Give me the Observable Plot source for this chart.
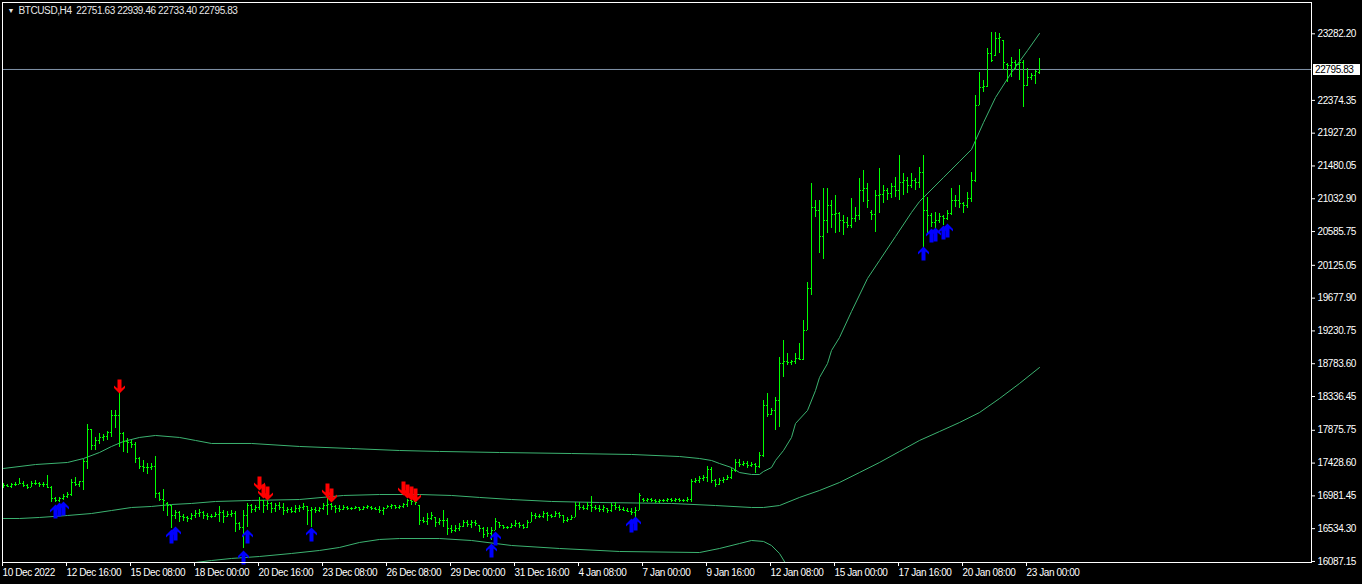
<!DOCTYPE html>
<html><head><meta charset="utf-8">
<script src="https://cdn.jsdelivr.net/npm/d3@7"></script>
<script src="https://cdn.jsdelivr.net/npm/@observablehq/plot@0.6"></script>
<style>html,body{margin:0;padding:0;background:#000;}#chart{width:1362px;height:584px;overflow:hidden}</style>
</head><body><div id="chart"></div>
<script>
const symbolTitle = "BTCUSD,H4";
const lastOHLC = [22751.63, 22939.46, 22733.40, 22795.83];
const lastClose = 22795.83;

const opens = [
17110,17123,17110,17137,17137,17150,17123,17096,17150,17150,
17137,17137,17096,16946,16919,16946,16973,17000,17164,17137,
17178,17450,17887,17668,17737,17778,17791,17846,18077,18077,
17832,17723,17709,17682,17491,17382,17368,17368,17382,17014,
16932,16878,16850,16714,16755,16701,16687,16673,16714,16741,
16755,16714,16701,16701,16728,16755,16701,16728,16741,16605,
16550,16714,16850,16796,16823,16919,16850,16878,16810,16850,
16823,16782,16796,16769,16810,16823,16837,16782,16796,16782,
16810,16850,16864,16837,16810,16796,16823,16810,16810,16823,
16796,16823,16823,16810,16796,16782,16810,16837,16850,16823,
16837,16864,16919,16905,16850,16646,16632,16673,16687,16619,
16646,16646,16537,16510,16537,16564,16619,16591,16619,16578,
16537,16510,16469,16510,16619,16578,16550,16550,16578,16605,
16578,16550,16619,16714,16701,16701,16741,16714,16701,16741,
16714,16646,16660,16687,16850,16823,16810,16850,16823,16810,
16796,16810,16782,16850,16823,16796,16782,16769,16755,16782,
16932,16919,16932,16919,16905,16919,16919,16932,16919,16932,
16919,16919,16932,17178,17191,17219,17232,17341,17191,17137,
17191,17205,17232,17328,17437,17409,17423,17396,17409,17382,
17532,18214,18091,18146,18282,18786,18814,18800,18814,18855,
18841,19236,19809,20914,20873,20518,20736,20941,20818,20832,
20736,20709,20668,20764,20805,21145,21173,20846,20818,21077,
21091,21145,21105,21200,21145,21255,21282,21214,21282,21255,
21391,20873,20805,20709,20736,20791,20764,20832,21009,21009,
20968,20941,21036,21282,22304,22550,22563,23013,22986,23218,
23191,22863,22850,22891,22863,22891,22577,22686,22713,22751.63];

const highs = [
17150,17137,17150,17164,17219,17178,17137,17178,17191,17164,
17164,17259,17110,16960,16960,17000,17028,17205,17232,17178,
17477,17955,17887,17778,17832,17818,17859,18146,18146,18377,
17846,17764,17737,17709,17505,17464,17423,17423,17518,17028,
17069,16891,16850,16782,16769,16728,16701,16741,16782,16796,
16769,16741,16728,16755,16837,16782,16769,16782,16769,16619,
16782,16878,16864,16850,16960,16919,16919,16891,16878,16891,
16878,16823,16823,16850,16850,16878,16837,16823,16823,16823,
16878,16960,16878,16850,16850,16850,16837,16823,16837,16823,
16837,16850,16837,16823,16837,16823,16850,16864,16850,16850,
16878,16932,16960,16919,16850,16687,16741,16755,16687,16673,
16782,16673,16578,16578,16605,16646,16646,16646,16646,16578,
16550,16550,16550,16673,16619,16578,16564,16605,16646,16619,
16591,16646,16755,16741,16728,16769,16755,16728,16769,16755,
16714,16687,16714,16891,16891,16850,16891,16973,16850,16850,
16850,16810,16878,16891,16850,16823,16810,16810,16823,17014,
16946,16946,16946,16932,16932,16932,16946,16946,16946,16946,
16932,16960,17205,17219,17246,17259,17382,17368,17205,17219,
17232,17259,17355,17477,17477,17450,17450,17437,17423,17573,
18282,18377,18173,18323,18868,19100,18923,18827,18923,19059,
19373,19891,21241,21009,21009,21173,21173,21009,21077,20846,
20805,20777,21036,20914,21309,21418,21241,20873,21145,21445,
21214,21173,21241,21323,21623,21377,21323,21377,21309,21459,
21623,21050,20832,20846,20832,20805,20873,21173,21077,21214,
20982,21118,21391,22441,22754,22645,23082,23300,23300,23286,
23191,22877,22959,22918,23068,22918,22809,22741,22782,22939.46];

const lows = [
17082,17096,17082,17110,17137,17096,17069,17096,17123,17096,
17096,17082,16891,16891,16891,16919,16946,16973,17110,17096,
17055,17341,17600,17600,17682,17723,17737,17778,17900,17641,
17573,17559,17627,17423,17341,17300,17273,17328,16946,16905,
16769,16701,16537,16660,16619,16632,16619,16646,16673,16687,
16660,16646,16673,16687,16619,16605,16687,16687,16482,16510,
16264,16550,16741,16755,16782,16741,16782,16741,16755,16782,
16714,16741,16741,16741,16755,16782,16578,16550,16741,16755,
16782,16714,16782,16741,16755,16782,16782,16782,16796,16769,
16782,16796,16782,16782,16741,16714,16810,16796,16796,16796,
16810,16823,16850,16850,16578,16605,16578,16646,16550,16578,
16550,16441,16469,16482,16496,16550,16550,16537,16564,16482,
16400,16414,16373,16510,16537,16523,16523,16537,16550,16537,
16523,16537,16619,16660,16673,16673,16632,16673,16687,16673,
16605,16619,16646,16687,16782,16782,16782,16755,16782,16755,
16755,16741,16755,16782,16769,16769,16755,16714,16687,16782,
16891,16891,16891,16878,16878,16891,16891,16891,16891,16891,
16891,16891,16891,17150,17150,17178,17164,17150,17096,17123,
17150,17191,17205,17300,17368,17382,17355,17368,17287,17355,
17505,18050,18077,17873,17914,18595,18759,18759,18773,18827,
18827,19236,19714,20777,20286,20205,20559,20627,20559,20573,
20532,20627,20627,20709,20736,20982,20900,20736,20573,20832,
20968,21009,21036,21050,21009,21077,21105,21173,21145,21173,
20368,20559,20641,20627,20695,20668,20736,20805,20914,20900,
20832,20900,20982,21255,22304,22482,22550,22891,22973,23013,
22782,22618,22686,22782,22645,22277,22563,22645,22591,22733.40];

const closes = [
17123,17110,17137,17137,17150,17123,17096,17150,17150,17137,
17137,17096,16946,16919,16946,16973,17000,17164,17137,17178,
17450,17887,17668,17737,17778,17791,17846,18077,18077,17832,
17723,17709,17682,17491,17382,17368,17368,17382,17014,16932,
16919,16850,16714,16755,16701,16687,16673,16714,16741,16755,
16714,16701,16701,16728,16755,16701,16728,16741,16605,16550,
16714,16850,16796,16823,16919,16850,16878,16810,16850,16823,
16782,16796,16769,16810,16823,16837,16782,16796,16782,16810,
16850,16864,16837,16810,16796,16823,16810,16810,16823,16796,
16823,16837,16810,16796,16782,16810,16837,16850,16823,16837,
16864,16919,16905,16891,16646,16632,16673,16714,16619,16646,
16646,16537,16510,16537,16564,16619,16591,16619,16605,16537,
16455,16469,16510,16632,16578,16550,16550,16578,16605,16578,
16550,16619,16714,16701,16701,16741,16714,16701,16741,16714,
16646,16660,16687,16850,16823,16810,16850,16823,16810,16796,
16823,16782,16850,16823,16796,16782,16769,16755,16782,16987,
16919,16932,16919,16905,16919,16919,16932,16919,16932,16919,
16919,16932,17178,17191,17219,17232,17341,17191,17137,17191,
17205,17232,17328,17437,17409,17423,17396,17409,17382,17532,
18214,18091,18146,18282,18786,18814,18800,18814,18855,18841,
19236,19809,20914,20873,20518,20736,20941,20818,20832,20736,
20709,20668,20764,20805,21145,21173,21009,20818,21077,21091,
21145,21105,21200,21145,21255,21282,21214,21282,21255,21391,
20873,20805,20709,20736,20791,20764,20832,21009,21009,20968,
20941,21036,21282,22304,22550,22563,23013,22918,23218,23232,
22891,22850,22891,22863,22891,22577,22686,22713,22768,22795.83];

// Bollinger-style bands (sampled at bar indices)
const upperIdx = [0,8,16,20,24,27,30,34,38,44,48,52,62,74,87,99,109,124,142,157,169,174,177,179,182,184,187,189,190,192,193,195,197,198,201,203,204,206,207,209,212,216,219,223,227,229,235,239,242,245,248,252,256,259];
const upperBand = [17355,17409,17437,17491,17573,17655,17723,17778,17805,17778,17737,17696,17696,17655,17627,17600,17587,17573,17559,17546,17518,17491,17464,17423,17368,17300,17273,17273,17314,17368,17464,17600,17778,17968,18146,18418,18595,18786,18964,19141,19495,19946,20191,20518,20846,20995,21323,21541,21705,22072,22413,22754,23054,23286];
const middleIdx = [0,4,9,16,22,27,32,37,42,47,53,62,74,85,94,104,112,119,127,137,149,167,178,187,190,194,199,204,209,214,219,224,229,234,239,244,249,254,259];
const middleBand = [16673,16673,16687,16714,16741,16782,16823,16837,16864,16878,16905,16919,16932,16987,17000,17000,16987,16960,16932,16905,16891,16878,16850,16823,16823,16850,16960,17055,17164,17300,17437,17587,17737,17859,17982,18118,18309,18514,18732];
const lowerIdx = [44,48,52,57,64,72,79,84,89,94,99,109,117,127,139,154,174,179,184,187,190,192,194,196];
const lowerBand = [16019,16073,16100,16128,16155,16196,16237,16278,16346,16387,16400,16400,16373,16305,16264,16223,16209,16264,16332,16373,16360,16305,16196,16019];

// Signal arrows
const sellBars = [29,64,65,66,81,82,100,101,102,103];
const sellPrices = [18377,17055,16946,16919,16960,16891,16987,16946,16919,16891];
const buyBars = [13,14,15,42,43,60,61,77,122,123,157,158,230,232,233,235,236];
const buyPrices = [16864,16891,16905,16523,16564,16237,16523,16550,16332,16496,16673,16701,20382,20628,20641,20668,20696];

// Axes
const dateTickBars = [0,16,32,48,64,80,96,112,128,144,160,176,192,208,224,240,256];
const dateLabels = ["10 Dec 2022","12 Dec 16:00","15 Dec 08:00","18 Dec 00:00","20 Dec 16:00","23 Dec 08:00","26 Dec 08:00","29 Dec 00:00","31 Dec 16:00","4 Jan 08:00","7 Jan 00:00","9 Jan 16:00","12 Jan 08:00","15 Jan 00:00","17 Jan 16:00","20 Jan 08:00","23 Jan 00:00"];
const priceTicks = [23282.20,22374.35,21927.20,21480.05,21032.90,20585.75,20125.05,19677.90,19230.75,18783.60,18336.45,17875.75,17428.60,16981.45,16534.30,16087.15];

const bars = opens.map((o, i) => ({i, open: o, high: highs[i], low: lows[i], close: closes[i]}));
const band = (idx, vals) => idx.map((i, k) => ({i, v: vals[k]}));
const sells = sellBars.map((i, k) => ({i, p: sellPrices[k]}));
const buys = buyBars.map((i, k) => ({i, p: buyPrices[k]}));

const arrowUp = {draw(ctx) {
  ctx.moveTo(0, 0); ctx.lineTo(5.5, 5.5); ctx.lineTo(5.5, 8); ctx.lineTo(2, 5);
  ctx.lineTo(2, 14); ctx.lineTo(-2, 14); ctx.lineTo(-2, 5); ctx.lineTo(-5.5, 8);
  ctx.lineTo(-5.5, 5.5); ctx.closePath();
}};
const arrowDown = {draw(ctx) {
  ctx.moveTo(0, 0); ctx.lineTo(5.5, -5.5); ctx.lineTo(5.5, -8); ctx.lineTo(2, -5);
  ctx.lineTo(2, -14); ctx.lineTo(-2, -14); ctx.lineTo(-2, -5); ctx.lineTo(-5.5, -8);
  ctx.lineTo(-5.5, -5.5); ctx.closePath();
}};

const barColor = "#00ff00";
const bandColor = "#3cb371";

const priceLabel = (index, scales, values, dimensions) => {
  const y = Math.round(scales.y(lastClose));
  const x0 = dimensions.width - dimensions.marginRight + 2;
  const g = d3.create("svg:g");
  g.append("rect").attr("x", x0).attr("y", y - 5).attr("width", 47).attr("height", 11).attr("fill", "#fff");
  g.append("text").attr("x", x0 + 2).attr("y", y + 0.5).attr("dy", "0.35em")
    .attr("text-anchor", "start").attr("fill", "#000").text(lastClose.toFixed(2));
  return g.node();
};

const chart = Plot.plot({
  width: 1362, height: 584,
  marginLeft: 2, marginTop: 2, marginRight: 51, marginBottom: 22,
  style: {background: "#000", color: "#fff", fontFamily: "'Liberation Sans', Arial, sans-serif", fontSize: "10px", letterSpacing: "-0.4px"},
  x: {type: "linear", domain: [-0.25, 327], label: null},
  y: {domain: [16073, 23709], label: null},
  marks: [
    Plot.ruleY([lastClose], {stroke: "#8093a8"}),
    Plot.line(band(upperIdx, upperBand), {x: "i", y: "v", stroke: bandColor, strokeWidth: 1, clip: true}),
    Plot.line(band(middleIdx, middleBand), {x: "i", y: "v", stroke: bandColor, strokeWidth: 1, clip: true}),
    Plot.line(band(lowerIdx, lowerBand), {x: "i", y: "v", stroke: bandColor, strokeWidth: 1, clip: true}),
    Plot.ruleX(bars, {x: "i", y1: "low", y2: "high", stroke: barColor, shapeRendering: "crispEdges", clip: true}),
    Plot.ruleY(bars, {y: "open", x1: d => d.i - 0.375, x2: d => d.i - 0.125, stroke: barColor, shapeRendering: "crispEdges"}),
    Plot.ruleY(bars, {y: "close", x1: d => d.i + 0.125, x2: d => d.i + 0.375, stroke: barColor, shapeRendering: "crispEdges"}),
    Plot.dot(sells, {x: "i", y: "p", symbol: arrowDown, r: 6, fill: "#ff0000", stroke: "none"}),
    Plot.dot(buys, {x: "i", y: "p", symbol: arrowUp, r: 6, fill: "#0000ff", stroke: "none"}),
    Plot.frame({stroke: "#fff"}),
    Plot.axisX({ticks: dateTickBars, tickFormat: d => dateLabels[dateTickBars.indexOf(d)], tickSize: 4, tickPadding: 2, textAnchor: "start", dx: -1, label: null}),
    Plot.axisY({anchor: "right", ticks: priceTicks, tickFormat: d => d.toFixed(2), tickSize: 3, tickPadding: 3, label: null}),
    priceLabel,
    Plot.text([0], {frameAnchor: "top-left", dx: 5, dy: 8, text: () => "\u25BC", fontSize: 7, fill: "#e8e8e8", lineAnchor: "middle", textAnchor: "start"}),
    Plot.text([0], {frameAnchor: "top-left", dx: 16, dy: 8, text: () => symbolTitle + "\u00a0\u00a0" + lastOHLC.map(v => v.toFixed(2)).join(" "), fill: "#e8e8e8", lineAnchor: "middle", textAnchor: "start"})
  ]
});
document.getElementById("chart").append(chart);
</script>
</body></html>
